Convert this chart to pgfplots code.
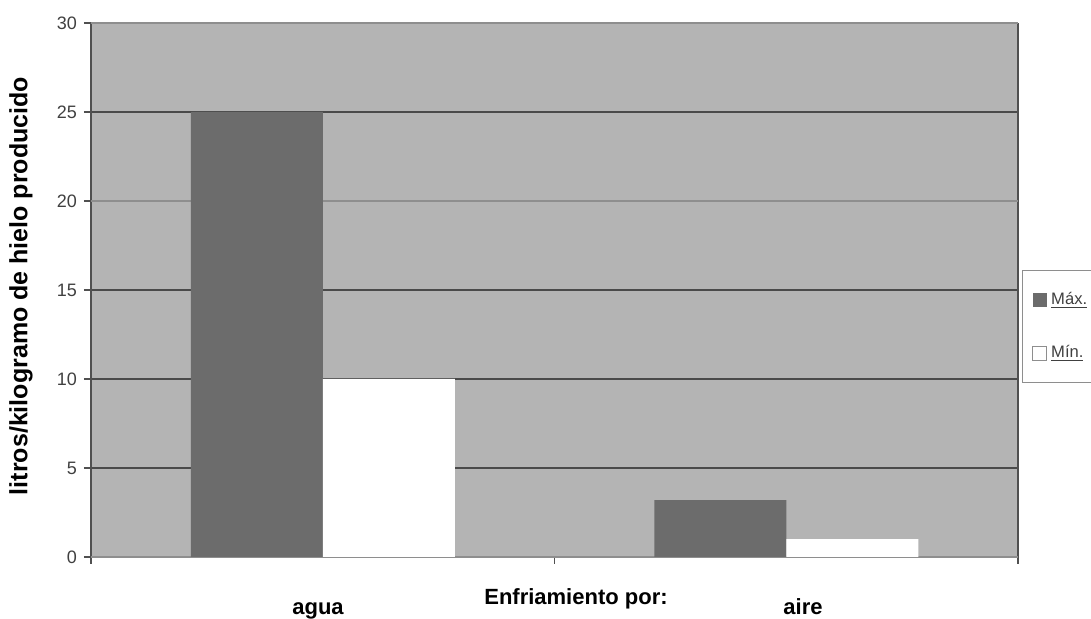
\documentclass[border=0pt]{standalone}
\usepackage{fontspec}
\setmainfont{Liberation Sans}
\usepackage{pgfplots}
\pgfplotsset{compat=1.18}
\definecolor{bgc}{HTML}{B4B4B4}
\definecolor{maxc}{HTML}{6C6C6C}
\definecolor{axc}{HTML}{505050}
\definecolor{gridc}{HTML}{4A4A4A}
\definecolor{grid2}{HTML}{8E8E8E}
\definecolor{tickc}{HTML}{404040}
\begin{document}
\begin{tikzpicture}
\useasboundingbox (0,0) rectangle (545.5pt,309.5pt);
\begin{axis}[
  at={(45.5pt,31pt)}, anchor=south west,
  scale only axis, width=463.5pt, height=267pt,
  ybar=0pt, bar width=66pt,
  xmin=-0.5, xmax=1.5, ymin=0, ymax=30,
  axis x line*=bottom, axis y line*=box,
  axis line style={-, draw=axc, line width=0.7pt},
  axis background/.style={fill=bgc},
  xtick={-0.5,0.5,1.5}, xticklabels={}, xtick pos=bottom,
  ytick={5,10,15,25}, ytick pos=left,
  extra y ticks={0,20,30},
  extra y tick style={major grid style={draw=grid2, line width=1.4pt}},
  tick align=outside, major tick length=3.5pt,
  tick style={draw=axc, line width=0.6pt},
  ymajorgrids, major grid style={draw=gridc, line width=0.7pt},
  yticklabel style={font=\fontsize{9}{10}\selectfont, text=tickc},
  /pgf/number format/assume math mode=true,
  legend style={at={(1.0043,0.5375)}, anchor=north west, draw=grid2, fill=white,
    font=\fontsize{8.3}{10}\selectfont, text=tickc, row sep=15pt,
    inner xsep=5pt, inner ysep=9pt, cells={anchor=west}},
]
\addplot[fill=maxc, draw=none,
  legend image code/.code={\fill[maxc] (0pt,-3.5pt) rectangle (7pt,3.5pt);}]
  coordinates {(0,25) (1,3.2)};
\addlegendentry{\underline{Máx.}}
\addplot[fill=white, draw=none,
  legend image code/.code={\draw[fill=white, draw=grid2] (0pt,-3.5pt) rectangle (7pt,3.5pt);}]
  coordinates {(0,10) (1,1.0)};
\addlegendentry{\underline{Mín.}}
\end{axis}
\node[rotate=90, font=\bfseries\fontsize{12.5}{14}\selectfont] at (10.5pt,166.5pt) {litros/kilogramo de hielo producido};
\node[anchor=base, font=\bfseries\fontsize{11}{13}\selectfont] at (159pt,2pt) {agua};
\node[anchor=base, font=\bfseries\fontsize{11}{13}\selectfont] at (288pt,7pt) {Enfriamiento por:};
\node[anchor=base, font=\bfseries\fontsize{11}{13}\selectfont] at (401.5pt,2pt) {aire};
\end{tikzpicture}
\end{document}
